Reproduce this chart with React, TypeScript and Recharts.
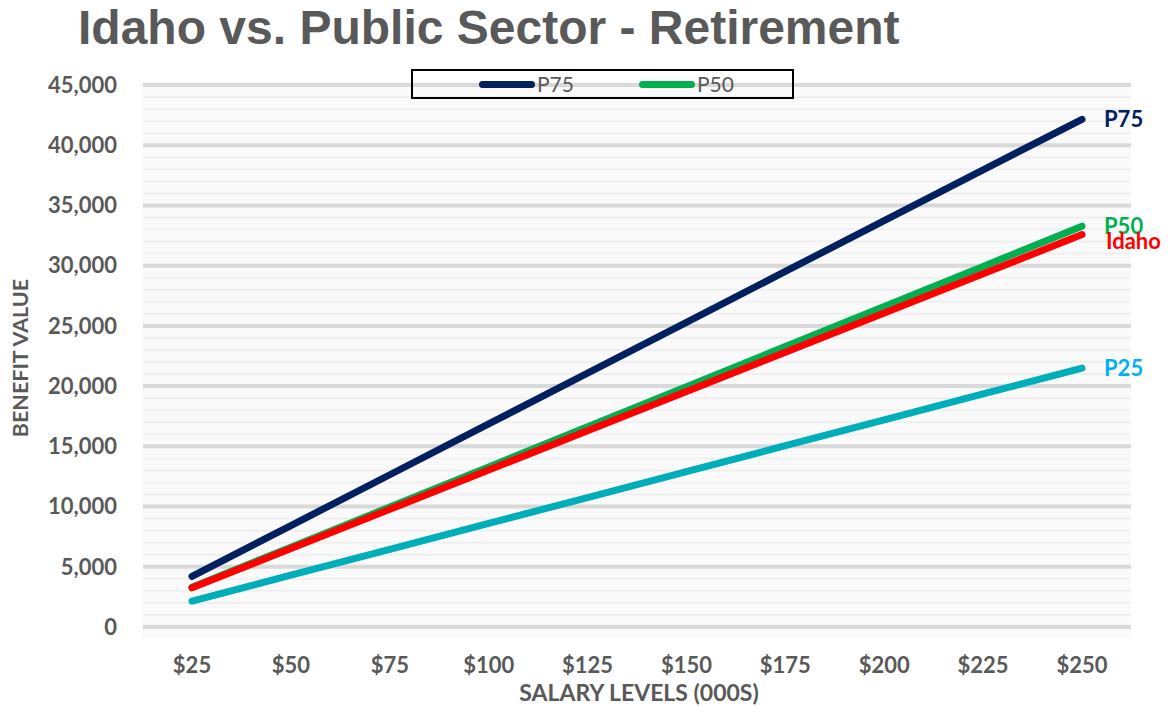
import React from 'react';
import { LineChart, Line, XAxis, YAxis, CartesianGrid, ReferenceLine } from 'recharts';

const salaryLevels = ['$25', '$50', '$75', '$100', '$125', '$150', '$175', '$200', '$225', '$250'];
const p75 = [4200, 8420, 12640, 16860, 21080, 25300, 29520, 33740, 37960, 42150];
const p50 = [3300, 6630, 9960, 13290, 16620, 19950, 23280, 26610, 29940, 33280];
const idaho = [3250, 6510, 9770, 13030, 16290, 19550, 22810, 26070, 29330, 32580];
const p25 = [2150, 4300, 6450, 8600, 10750, 12900, 15050, 17200, 19350, 21500];
const majorTicks = [0, 5000, 10000, 15000, 20000, 25000, 30000, 35000, 40000, 45000];
// minor gridlines every 1,000 between the major ones
const minorTicks = Array.from({ length: 46 }, (_, i) => i * 1000).filter((v) => v % 5000 !== 0);

const legendItems = [
  { name: 'P75', color: '#002060', left: 66 },
  { name: 'P50', color: '#00B050', left: 226 },
];

const data = salaryLevels.map((s, i) => ({ salary: s, p75: p75[i], p50: p50[i], idaho: idaho[i], p25: p25[i] }));

const FONT = 'Lato, "Open Sans", sans-serif';
const GRAY = '#595959';
const LAST = salaryLevels.length - 1;

const endLabel = (text: string, color: string, dx: number, dy: number) => (props: any) => {
  if (props.index !== LAST) return <g />;
  return (
    <text x={props.x + dx} y={props.y + dy} fill={color} fontFamily={FONT} fontWeight={700} fontSize={22} textAnchor="start">
      {text}
    </text>
  );
};

export default function App() {
  return (
    <div style={{ position: 'absolute', left: 0, top: 0, width: 1172, height: 706, background: '#fff' }}>
      <div style={{ position: 'absolute', left: 143, top: 82, width: 988, height: 556, background: '#fafafa' }} />
      <div
        style={{
          position: 'absolute',
          left: 78,
          top: -1,
          fontFamily: '"Liberation Sans", Arial, sans-serif',
          fontWeight: 700,
          fontSize: 48,
          color: GRAY,
          lineHeight: '58px',
          whiteSpace: 'nowrap',
        }}
      >
        Idaho vs. Public Sector - Retirement
      </div>
      <div
        style={{
          position: 'absolute',
          left: 20,
          top: 358,
          transform: 'translate(-50%, -50%) rotate(-90deg)',
          fontFamily: FONT,
          fontWeight: 700,
          fontSize: 21.5,
          color: GRAY,
          whiteSpace: 'nowrap',
        }}
      >
        BENEFIT VALUE
      </div>
      <div
        style={{
          position: 'absolute',
          left: 639,
          top: 692,
          transform: 'translate(-50%, -50%)',
          fontFamily: FONT,
          fontWeight: 700,
          fontSize: 23,
          color: GRAY,
          whiteSpace: 'nowrap',
        }}
      >
        SALARY LEVELS (000S)
      </div>
      <div style={{ position: 'absolute', left: 0, top: 0 }}>
        <LineChart width={1172} height={706} data={data} margin={{ top: 85, right: 41, bottom: 0, left: 0 }}>
          <CartesianGrid vertical={false} stroke="#d9d9d9" strokeWidth={4} />
          {minorTicks.map((v) => (
            <ReferenceLine key={v} y={v} stroke="#efefef" strokeWidth={2} />
          ))}
          <XAxis
            dataKey="salary"
            height={79}
            padding={{ left: 49, right: 49 }}
            tickLine={false}
            axisLine={{ stroke: '#d9d9d9', strokeWidth: 2 }}
            tickMargin={24}
            tick={{ fill: GRAY, fontFamily: FONT, fontWeight: 700, fontSize: 22 }}
          />
          <YAxis
            width={143}
            domain={[0, 45000]}
            ticks={majorTicks}
            tickLine={false}
            axisLine={false}
            tickSize={0}
            tickMargin={26}
            tickFormatter={(v: number) => v.toLocaleString('en-US')}
            tick={{ fill: GRAY, fontFamily: FONT, fontWeight: 700, fontSize: 22 }}
          />
          <Line dataKey="p75" name="P75" stroke="#002060" strokeWidth={7} strokeLinecap="round" dot={false} isAnimationActive={false} label={endLabel('P75', '#002060', 22, 8)} />
          <Line dataKey="p25" name="P25" stroke="#00ADBA" strokeWidth={7} strokeLinecap="round" dot={false} isAnimationActive={false} label={endLabel('P25', '#00B0F0', 22, 8)} />
          <Line dataKey="p50" name="P50" stroke="#00B050" strokeWidth={7} strokeLinecap="round" dot={false} isAnimationActive={false} label={endLabel('P50', '#00B050', 22, 8)} />
          <Line dataKey="idaho" name="Idaho" stroke="#FF0000" strokeWidth={7} strokeLinecap="round" dot={false} isAnimationActive={false} label={endLabel('Idaho', '#FF0000', 24, 14)} />
        </LineChart>
      </div>
      <div
        style={{
          position: 'absolute',
          left: 411,
          top: 69,
          width: 383,
          height: 30,
          border: '2px solid #000',
          boxSizing: 'border-box',
        }}
      >
        {legendItems.map((item) => (
          <div key={item.name} style={{ position: 'absolute', left: item.left, top: 0, height: 26, display: 'flex', alignItems: 'center' }}>
            <div style={{ width: 56, height: 7, borderRadius: 4, background: item.color }} />
            <span style={{ marginLeft: 2, fontFamily: FONT, fontSize: 21, color: GRAY, lineHeight: '26px' }}>{item.name}</span>
          </div>
        ))}
      </div>
    </div>
  );
}
